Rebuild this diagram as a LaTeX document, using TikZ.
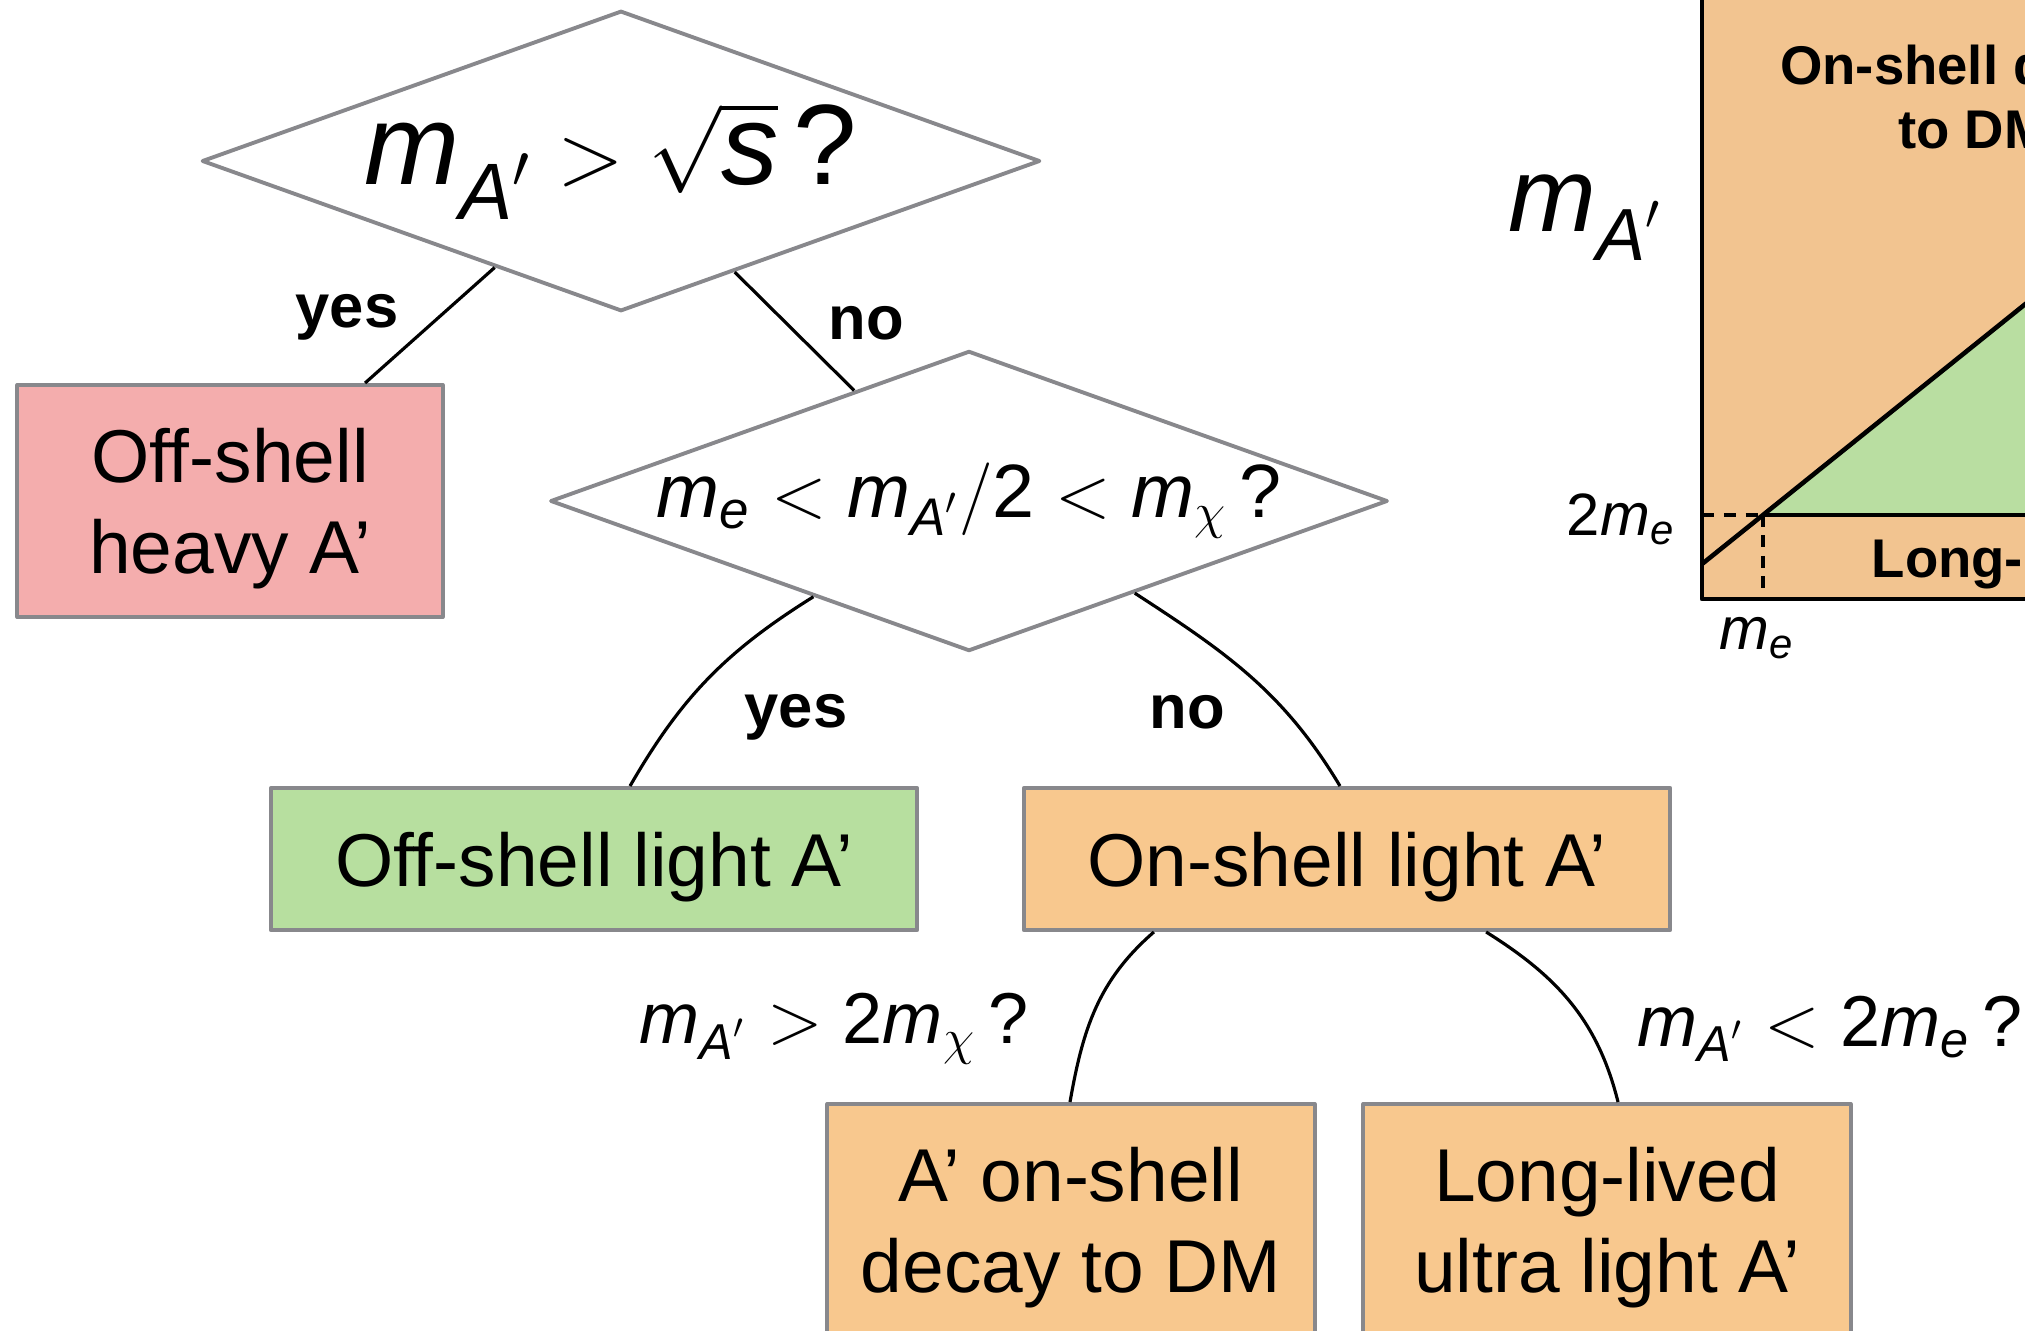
\documentclass[tikz,border=0pt]{standalone}
\usepackage{amsmath}
\usepackage{fontspec}
\setmainfont{Liberation Sans}
\usetikzlibrary{shapes.geometric,calc}

\definecolor{heavyred}{RGB}{244,173,173}
\definecolor{offgreen}{RGB}{183,223,159}
\definecolor{onorange}{RGB}{248,200,142}
\definecolor{plotorange}{RGB}{242,196,144}
\definecolor{plotgreen}{RGB}{185,222,161}
\definecolor{edgegray}{RGB}{136,136,140}

\newcommand{\mAp}{\textit{m}_{\textit{A}'}}
\newcommand{\mel}{\textit{m}_{\textit{e}}}
\newcommand{\mdm}{\textit{m}_{\chi}}

\begin{document}
\begin{tikzpicture}[x=0.01cm,y=-0.01cm,line join=round,
    cond/.style={diamond,draw=edgegray,fill=white,line width=1.1pt,inner sep=0pt,
      aspect=2.79,minimum width=8.37cm,minimum height=3cm},
    outcome/.style={rectangle,draw=edgegray,line width=1.1pt,align=center,inner sep=0pt,
      text depth=0pt,font=\fontsize{21.3}{26}\selectfont},
    answer/.style={inner sep=0pt,font=\bfseries\fontsize{17.5}{20}\selectfont},
    branch/.style={black,line width=0.9pt},
    plottext/.style={inner sep=0pt,align=center,font=\bfseries\fontsize{15.5}{18.2}\selectfont}]
    \useasboundingbox (0,0) rectangle (2025,1330);
    \clip (0,0) rectangle (2025,1330);
    % ============ Decision tree ============
    \node[cond,font=\fontsize{32.5}{38}\selectfont] (q1) at (621,161)
      {$\mAp>\sqrt{\textit{s}}\,$?\hspace*{6pt}};
    \node[cond,font=\fontsize{21.5}{26}\selectfont] (q2) at (969,501)
      {$\mel<\mAp/\textup{2}<\mdm\,$?};
    \node[outcome,fill=heavyred,minimum width=4.25cm,minimum height=2.32cm] (heavy) at (230,501)
      {Off-shell\\heavy A’};
    \node[outcome,fill=offgreen,minimum width=6.46cm,minimum height=1.42cm] (offl) at (594,859)
      {Off-shell light A’};
    \node[outcome,fill=onorange,minimum width=6.46cm,minimum height=1.42cm] (onl) at (1347,859)
      {On-shell light A’};
    \node[outcome,fill=onorange,minimum width=4.87cm,minimum height=2.32cm] (decay) at (1071,1220)
      {A’ on-shell\\decay to DM};
    \node[outcome,fill=onorange,minimum width=4.87cm,minimum height=2.32cm] (long) at (1607,1220)
      {Long-lived\\ultra light A’};
    % ============ Branches ============
    \draw[branch] ($(q1.west)!0.70!(q1.south)$) -- ([xshift=1.35cm]heavy.north);
    \draw[branch] ($(q1.south)!0.27!(q1.east)$) -- ($(q2.west)!0.727!(q2.north)$);
    \draw[branch] ($(q2.west)!0.63!(q2.south)$) to[out=-148,in=60] ([xshift=0.36cm]offl.north);
    \draw[branch] ($(q2.south)!0.394!(q2.east)$) to[out=-33,in=121] ([xshift=-0.07cm]onl.north);
    \draw[branch] ([xshift=-1.93cm]onl.south) to[out=-139,in=80] ([xshift=-0.01cm]decay.north);
    \draw[branch] ([xshift=1.39cm]onl.south) to[out=-32,in=104] ([xshift=0.11cm]long.north);
    \node[answer] (yes1) at (347,317) {yes};
    \node[answer] (no1) at (866,323) {no};
    \node[answer] (yes2) at (796,717) {yes};
    \node[answer] (no2) at (1187,712) {no};
    \node[inner sep=0pt,font=\fontsize{20.5}{25}\selectfont] (dmq) at (834,1029)
      {$\mAp>\textup{2}\mdm\,$?};
    \node[inner sep=0pt,font=\fontsize{20.5}{25}\selectfont] (llq) at (1830,1029)
      {$\mAp<\textup{2}\mel\,$?};
    % ============ Mass plane ============
    \fill[plotorange] (1702,-20) rectangle (2100,599);
    \fill[plotgreen] (1763,515) -- (2100,244) -- (2100,515) -- cycle;
    \draw[line width=1.3pt] (1702,564) -- (2100,244);
    \draw[line width=1.3pt] (1763,515) -- (2100,515);
    \draw[line width=1.1pt,dash pattern=on 3.4pt off 2.8pt] (1702,515) -- (1763,515);
    \draw[line width=1.1pt,dash pattern=on 3.4pt off 2.4pt] (1763,515) -- (1763,592);
    \draw[line width=1.4pt] (1702,-20) -- (1702,599) -- (2100,599);
    \node[inner sep=0pt,font=\fontsize{30}{36}\selectfont] (yax) at (1586,218) {$\mAp$};
    \node[inner sep=0pt,font=\fontsize{17}{20}\selectfont] (twome) at (1621,519) {$\textup{2}\mel$};
    \node[inner sep=0pt,font=\fontsize{17}{20}\selectfont] (mexl) at (1757,638) {$\mel$};
    \node[plottext] (ondm) at (1974,97) {On-shell decay\\to DM};
    \node[plottext,anchor=west] (llreg) at (1871,564) {Long-lived};
\end{tikzpicture}
\end{document}
